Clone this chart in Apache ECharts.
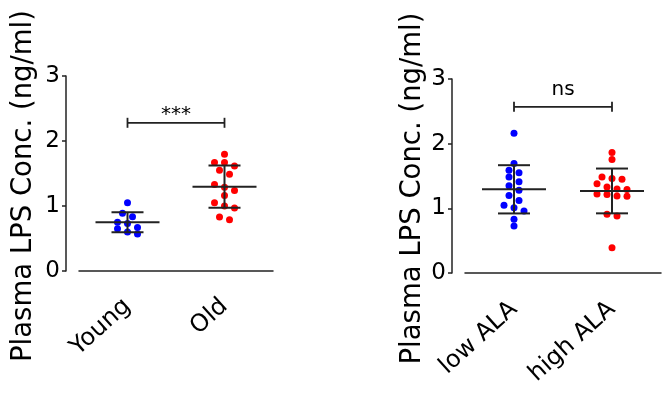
<!DOCTYPE html>
<html lang="en">
<head>
  <meta charset="UTF-8">
  <title>Plasma LPS</title>
  <style>html, body { margin: 0; padding: 0; background: #fff; }</style>
</head>
<body>
  <div id="main" style="width: 667px; height: 397px;"></div>
  <script src="https://cdn.jsdelivr.net/npm/echarts@6/dist/echarts.min.js"></script>
  <script type="text/javascript">
    // groups and values (ng/ml)
    var ageGroups = ['Young', 'Old'];
    var alaGroups = ['low ALA', 'high ALA'];
    var young = [1.05, 0.89, 0.835, 0.75, 0.73, 0.67, 0.65, 0.60, 0.57];
    var old = [1.795, 1.67, 1.67, 1.615, 1.55, 1.49, 1.33, 1.29, 1.24, 1.16, 1.05, 1.0, 0.97, 0.83, 0.79];
    var lowAla = [2.16, 1.695, 1.59, 1.55, 1.484, 1.41, 1.35, 1.28, 1.2, 1.12, 1.046, 1.01, 0.96, 0.83, 0.726];
    var highAla = [1.865, 1.757, 1.484, 1.46, 1.45, 1.38, 1.33, 1.3, 1.29, 1.22, 1.215, 1.19, 1.185, 0.907, 0.88, 0.39];
    var yTicks = [0, 1, 2, 3];
    var sigLabels = ['***', 'ns'];
    var sigLevels = [2.28, 2.57];

    var yName = 'Plasma LPS Conc. (ng/ml)';
    var font = 'DejaVu Sans';
    var ink = '#222';

    function stats(vals) {
      var n = vals.length, m = 0, s = 0;
      vals.forEach(function (v) { m += v; });
      m /= n;
      vals.forEach(function (v) { s += (v - m) * (v - m); });
      return [m, Math.sqrt(s / (n - 1))];
    }

    // simple row-based swarm: close values share a row, spread around the center
    function swarm(vals, ci, pxPerUnit) {
      var sorted = vals.slice().sort(function (a, b) { return b - a; });
      var out = [], row = [];
      function flush() {
        var n = row.length;
        row.forEach(function (v, i) {
          out.push({ value: [ci, v], symbolOffset: [(i - (n - 1) / 2) * 10, 0] });
        });
        row = [];
      }
      sorted.forEach(function (v) {
        if (row.length && (row[0] - v) * pxPerUnit > 6) flush();
        row.push(v);
      });
      flush();
      return out;
    }

    var grids = [
      { left: 79, top: 76, width: 194, height: 195, outerBoundsMode: 'none' },
      { left: 465, top: 79, width: 196, height: 194, outerBoundsMode: 'none' }
    ];

    function xAxisFor(i, cats, off) {
      return {
        type: 'category', gridIndex: i, data: cats, offset: off,
        axisLine: { lineStyle: { color: ink, width: 1.5 } },
        axisTick: { alignWithLabel: true, length: 4, lineStyle: { color: ink, width: 1.5 } },
        axisLabel: { rotate: 42, interval: 0, margin: 20, color: '#000', fontSize: 24, fontFamily: font },
        splitLine: { show: false }
      };
    }
    function yAxisFor(i, gap) {
      return {
        type: 'value', gridIndex: i, min: yTicks[0], max: yTicks[yTicks.length - 1], interval: 1,
        offset: 13,
        name: yName, nameLocation: 'middle', nameGap: gap,
        nameTextStyle: { fontSize: 27.5, fontFamily: font, color: '#000', padding: [0, 25, 0, 0] },
        axisLine: { show: true, lineStyle: { color: ink, width: 1.5 } },
        axisTick: { show: true, length: 4, lineStyle: { color: ink, width: 1.5 } },
        axisLabel: { margin: 6, color: '#000', fontSize: 23, fontFamily: font },
        splitLine: { show: false }
      };
    }

    function errorBars(i, groups) {
      return {
        type: 'custom', xAxisIndex: i, yAxisIndex: i, z: 5, silent: true,
        data: groups.map(function (g, ci) { var st = stats(g); return [ci, st[0], st[1]]; }),
        renderItem: function (params, api) {
          var ci = api.value(0), m = api.value(1), s = api.value(2);
          var pm = api.coord([ci, m]), pt = api.coord([ci, m + s]), pb = api.coord([ci, m - s]);
          var st = { stroke: ink, lineWidth: 2 };
          return {
            type: 'group', children: [
              { type: 'line', shape: { x1: pm[0] - 32, y1: pm[1], x2: pm[0] + 32, y2: pm[1] }, style: st },
              { type: 'line', shape: { x1: pt[0], y1: pt[1], x2: pb[0], y2: pb[1] }, style: st },
              { type: 'line', shape: { x1: pt[0] - 16, y1: pt[1], x2: pt[0] + 16, y2: pt[1] }, style: st },
              { type: 'line', shape: { x1: pb[0] - 16, y1: pb[1], x2: pb[0] + 16, y2: pb[1] }, style: st }
            ]
          };
        }
      };
    }

    function bracket(i, label, fs, lift) {
      return {
        type: 'custom', xAxisIndex: i, yAxisIndex: i, z: 5, silent: true,
        data: [[0, 1, sigLevels[i]]],
        renderItem: function (params, api) {
          var a = api.coord([api.value(0), api.value(2)]);
          var b = api.coord([api.value(1), api.value(2)]);
          var st = { stroke: ink, lineWidth: 1.8 };
          return {
            type: 'group', children: [
              { type: 'line', shape: { x1: a[0], y1: a[1], x2: b[0], y2: b[1] }, style: st },
              { type: 'line', shape: { x1: a[0], y1: a[1] - 5, x2: a[0], y2: a[1] + 5 }, style: st },
              { type: 'line', shape: { x1: b[0], y1: b[1] - 5, x2: b[0], y2: b[1] + 5 }, style: st },
              {
                type: 'text', x: (a[0] + b[0]) / 2, y: a[1] - lift,
                style: { text: label, fill: '#000', fontSize: fs, fontFamily: font, align: 'center', verticalAlign: 'bottom' }
              }
            ]
          };
        }
      };
    }

    var ppu0 = grids[0].height / 3, ppu1 = grids[1].height / 3;
    function dots(i, vals, ci, ppu, color) {
      return {
        type: 'scatter', xAxisIndex: i, yAxisIndex: i, symbolSize: 7, silent: true, z: 3,
        itemStyle: { color: color, opacity: 1 },
        data: swarm(vals, ci, ppu)
      };
    }

    var myChart = echarts.init(document.getElementById('main'));
    myChart.setOption({
      animation: false,
      backgroundColor: '#fff',
      grid: grids,
      xAxis: [xAxisFor(0, ageGroups, 12), xAxisFor(1, alaGroups, 13)],
      yAxis: [yAxisFor(0, 28), yAxisFor(1, 25)],
      series: [
        dots(0, young, 0, ppu0, '#0000ff'),
        dots(0, old, 1, ppu0, '#ff0000'),
        dots(1, lowAla, 0, ppu1, '#0000ff'),
        dots(1, highAla, 1, ppu1, '#ff0000'),
        errorBars(0, [young, old]),
        errorBars(1, [lowAla, highAla]),
        bracket(0, sigLabels[0], 20, -2),
        bracket(1, sigLabels[1], 20, 7)
      ]
    });
  </script>
</body>
</html>
